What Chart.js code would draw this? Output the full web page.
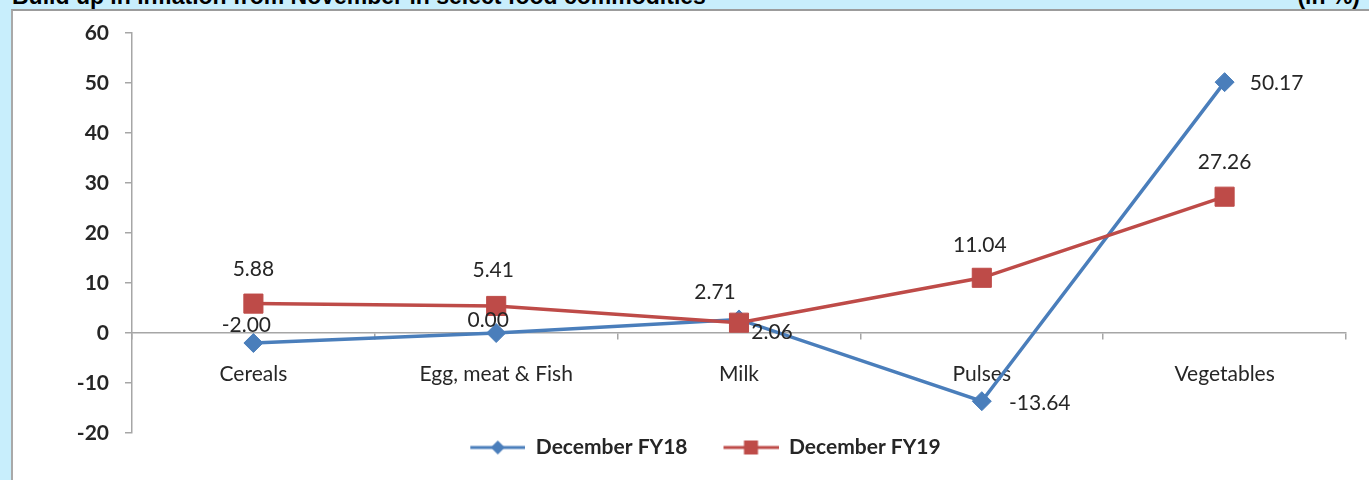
<!DOCTYPE html>
<html>
<head>
<meta charset="utf-8">
<script src="https://cdn.jsdelivr.net/npm/chart.js@4.4.1/dist/chart.umd.min.js"></script>
<style>
  html, body { margin: 0; padding: 0; }
  body { width: 1369px; height: 480px; overflow: hidden; background: #c8eefc; position: relative; }
  #titulo { position: absolute; left: 12px; top: -16px; font: bold 23px "Liberation Sans", Arial, sans-serif; line-height: 24px; color: #000; white-space: nowrap; }
  #unidade { position: absolute; right: 9px; top: -16px; font: bold 23px "Liberation Sans", Arial, sans-serif; line-height: 24px; color: #000; }
  #painel { position: absolute; left: 11px; top: 9px; width: 1400px; height: 500px; background: #fff; border-left: 2px solid #a9a9a9; border-top: 2px solid #9c9c9c; }
  #grafico { position: absolute; left: 0; top: 0; }
</style>
</head>
<body>
<div id="titulo">Build up in inflation from November in select food commodities</div>
<div id="unidade">(in %)</div>
<div id="painel"></div>
<canvas id="grafico" width="1369" height="480"></canvas>
<script>
// categorias e valores
const categorias = ['Cereals', 'Egg, meat & Fish', 'Milk', 'Pulses', 'Vegetables'];
const dezFY18 = [-2.00, 0.00, 2.71, -13.64, 50.17];
const dezFY19 = [5.88, 5.41, 2.06, 11.04, 27.26];
const ticksY = { min: -20, max: 60, passo: 10 };

// deslocamento dos rótulos de dados em relação ao ponto (px)
const deslocFY18 = [[-7, -18], [-8, -13], [-24, -27], [58, 2], [52, 1]];
const deslocFY19 = [[0, -34], [-3, -36], [33, 10], [-2, -33], [0, -34]];

const azul = '#4a7ebb';
const vermelho = '#be4b48';
const corTexto = '#262626';
const corEixo = '#a6a6a6';

// ícone da legenda: espaço vazio à esquerda + linha com marcador
function iconeLegenda(cor, estilo) {
    const vazio = 32, linha = 55;
    const c = document.createElement('canvas');
    c.width = vazio + linha; c.height = 20;
    const g = c.getContext('2d');
    g.strokeStyle = cor; g.lineWidth = 3;
    g.beginPath(); g.moveTo(vazio, 10); g.lineTo(vazio + linha, 10); g.stroke();
    g.fillStyle = cor;
    const cx = vazio + linha / 2;
    if (estilo === 'rectRot') {
        g.beginPath(); g.moveTo(cx - 7, 10); g.lineTo(cx, 3); g.lineTo(cx + 7, 10); g.lineTo(cx, 17); g.closePath(); g.fill();
    } else {
        g.fillRect(cx - 7, 3, 14, 14);
    }
    return c;
}

const rotulosPlugin = {
    id: 'rotulos',
    afterDatasetsDraw(chart) {
        const ctx = chart.ctx;
        const desloc = [deslocFY18, deslocFY19];
        ctx.save();
        ctx.font = '21px Lato';
        ctx.fillStyle = corTexto;
        ctx.textAlign = 'center';
        ctx.textBaseline = 'middle';
        chart.data.datasets.forEach((ds, i) => {
            const meta = chart.getDatasetMeta(i);
            meta.data.forEach((pt, j) => {
                const d = desloc[i][j];
                ctx.fillText(ds.data[j].toFixed(2), pt.x + d[0], pt.y + d[1]);
            });
        });
        ctx.restore();
    }
};

const ctx = document.getElementById('grafico').getContext('2d');
new Chart(ctx, {
    type: 'line',
    data: {
        labels: categorias,
        datasets: [
            {
                label: 'December FY18', data: dezFY18, order: 1,
                borderColor: azul, backgroundColor: azul, borderWidth: 3.5,
                pointStyle: 'rectRot', pointRadius: 9.5, pointHoverRadius: 9.5, pointBorderWidth: 1,
                tension: 0
            },
            {
                label: 'December FY19', data: dezFY19, order: 0,
                borderColor: vermelho, backgroundColor: vermelho, borderWidth: 3.5,
                pointStyle: 'rect', pointRadius: 13.5, pointHoverRadius: 13.5, pointBorderWidth: 1,
                tension: 0
            }
        ]
    },
    options: {
        responsive: false,
        animation: false,
        layout: { padding: { top: 33, right: 23, bottom: 12, left: 33 } },
        scales: {
            x: {
                type: 'category',
                offset: true,
                position: { y: 0 },
                afterFit: s => { s.height = 0; },
                grid: { drawOnChartArea: false, drawTicks: true, tickLength: 6, offset: true, color: corEixo, lineWidth: 1.5 },
                border: { display: true, color: corEixo, width: 1.5 },
                ticks: { color: corTexto, font: { family: 'Lato', size: 21 }, padding: 23, maxRotation: 0 }
            },
            y: {
                min: ticksY.min, max: ticksY.max,
                afterFit: s => { s.width = 99; },
                grid: { drawOnChartArea: false, drawTicks: true, tickLength: 7, color: corEixo, lineWidth: 1.5 },
                border: { display: true, color: corEixo, width: 1.5 },
                ticks: { stepSize: ticksY.passo, color: corTexto, font: { family: 'Lato', size: 21, weight: 'bold' }, padding: 16 }
            }
        },
        plugins: {
            tooltip: { enabled: false },
            legend: {
                position: 'bottom',
                labels: {
                    usePointStyle: true,
                    pointStyleWidth: 87,
                    padding: 4,
                    color: corTexto,
                    font: { family: 'Lato', size: 21, weight: 'bold' },
                    generateLabels: chart => chart.data.datasets.map((ds, i) => ({
                        text: ds.label,
                        datasetIndex: i,
                        fillStyle: ds.borderColor,
                        strokeStyle: ds.borderColor,
                        lineWidth: 0,
                        pointStyle: iconeLegenda(ds.borderColor, ds.pointStyle),
                        fontColor: corTexto,
                        hidden: false
                    }))
                }
            }
        }
    },
    plugins: [rotulosPlugin]
});
</script>
</body>
</html>
